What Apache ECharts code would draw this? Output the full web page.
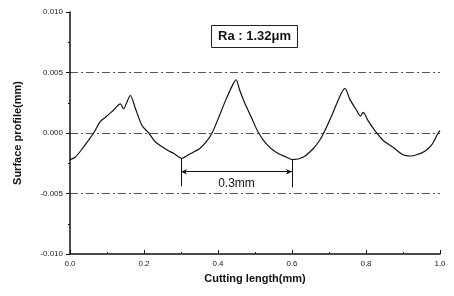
<!DOCTYPE html>
<html>
<head>
<meta charset="utf-8">
<script src="https://cdn.jsdelivr.net/npm/echarts@6/dist/echarts.min.js"></script>
<style>
  html, body { margin: 0; padding: 0; background: #fff; }
  #main { width: 454px; height: 296px; }
</style>
</head>
<body>
<div id="main"></div>
<script>
// cutting length (mm) and surface profile (mm)
var lengths = [0, 0.014, 0.037, 0.05, 0.064, 0.082, 0.096, 0.118, 0.136, 0.145, 0.153, 0.163, 0.177, 0.195,
  0.213, 0.231, 0.263, 0.281, 0.303, 0.315, 0.326, 0.35, 0.368, 0.384, 0.404, 0.422, 0.44, 0.449, 0.458,
  0.472, 0.49, 0.508, 0.53, 0.557, 0.585, 0.602, 0.63, 0.657, 0.675, 0.688, 0.711, 0.729, 0.743, 0.756,
  0.774, 0.785, 0.792, 0.806, 0.824, 0.846, 0.874, 0.9, 0.919, 0.937, 0.959, 0.977, 0.995, 1.0];
var profile = [-0.0022, -0.002, -0.00115, -0.0006, 0, 0.00096, 0.0013, 0.0019, 0.0024, 0.002, 0.0025, 0.0031,
  0.002, 0.0006, 0, -0.00074, -0.0014, -0.0017, -0.0021, -0.0019, -0.0017, -0.0013, -0.00074, 0, 0.00145,
  0.0028, 0.004, 0.0044, 0.0036, 0.0025, 0.0013, 0.0001, -0.00088, -0.0016, -0.002, -0.0022, -0.002, -0.0013,
  -0.0006, 0.00014, 0.0017, 0.003, 0.0037, 0.0028, 0.0019, 0.0014, 0.0017, 0.001, 0.0002, -0.0006, -0.0012,
  -0.0018, -0.0019, -0.0018, -0.0015, -0.001, 0, 0.0002];

var yTicks = [-0.010, -0.005, 0.000, 0.005, 0.010];
var xTicks = [0.0, 0.2, 0.4, 0.6, 0.8, 1.0];
var pitchFrom = 0.3, pitchTo = 0.6, pitchLabel = '0.3mm';
var raLabel = 'Ra : 1.32\u03bcm';

var points = lengths.map(function (x, i) { return [x, profile[i]]; });

var chart = echarts.init(document.getElementById('main'));
var font = 'Liberation Sans, Arial, sans-serif';
chart.setOption({
  animation: false,
  backgroundColor: '#fff',
  title: {
    text: raLabel,
    left: 211, top: 25,
    padding: [5, 7],
    borderWidth: 1, borderColor: '#222',
    textStyle: { fontFamily: font, fontSize: 13, fontWeight: 'bold', color: '#111' }
  },
  grid: { left: 70, right: 14, top: 12, bottom: 42 },
  xAxis: {
    type: 'value', min: 0, max: 1, interval: 0.2,
    name: 'Cutting length(mm)', nameLocation: 'middle', nameGap: 19,
    nameTextStyle: { fontFamily: font, fontSize: 11, fontWeight: 'bold', color: '#111' },
    axisLine: { onZero: false, lineStyle: { color: '#111', width: 1.5 } },
    axisTick: { inside: true, length: 4, lineStyle: { color: '#111' } },
    minorTick: { show: true, splitNumber: 2, length: 2, lineStyle: { color: '#111' } },
    axisLabel: { fontFamily: font, fontSize: 8, color: '#222', margin: 6,
      formatter: function (v) { return xTicks.indexOf(v) >= 0 ? v.toFixed(1) : ''; } },
    splitLine: { show: false }
  },
  yAxis: {
    type: 'value', min: -0.01, max: 0.01, interval: 0.005,
    name: 'Surface profile(mm)', nameLocation: 'middle', nameGap: 47,
    nameTextStyle: { fontFamily: font, fontSize: 11, fontWeight: 'bold', color: '#111' },
    axisLine: { show: true, onZero: false, lineStyle: { color: '#111', width: 1.5 } },
    axisTick: { show: true, length: 4, lineStyle: { color: '#111' } },
    minorTick: { show: true, splitNumber: 2, length: 2, lineStyle: { color: '#111' } },
    axisLabel: { fontFamily: font, fontSize: 8, color: '#222', margin: 7,
      formatter: function (v) { return yTicks.some(function (t) { return Math.abs(t - v) < 1e-9; }) ? v.toFixed(3) : ''; } },
    splitLine: { show: true, showMinLine: false, showMaxLine: false,
      lineStyle: { color: '#555', width: 1, type: [8, 3, 2, 3] } }
  },
  series: [{
    type: 'line',
    data: points,
    showSymbol: false,
    smooth: 0.3,
    lineStyle: { color: '#111', width: 1.2 },
    markLine: {
      silent: true,
      symbol: 'none',
      label: { show: false },
      lineStyle: { color: '#111', width: 1, type: 'solid' },
      data: [
        [{ coord: [pitchFrom, -0.0021] }, { coord: [pitchFrom, -0.0044] }],
        [{ coord: [pitchTo, -0.0022] }, { coord: [pitchTo, -0.0045] }],
        [{ coord: [pitchFrom, -0.0032], symbol: 'arrow', symbolSize: [4, 6], symbolRotate: 90 },
         { coord: [pitchTo, -0.0032], symbol: 'arrow', symbolSize: [4, 6], symbolRotate: -90 }]
      ]
    },
    markPoint: {
      silent: true,
      symbol: 'circle',
      symbolSize: 1,
      itemStyle: { color: 'rgba(0,0,0,0)' },
      label: { show: true, position: 'inside', formatter: pitchLabel, fontFamily: font, fontSize: 12, color: '#111' },
      data: [{ coord: [(pitchFrom + pitchTo) / 2, -0.0042] }]
    }
  }]
});
</script>
</body>
</html>
